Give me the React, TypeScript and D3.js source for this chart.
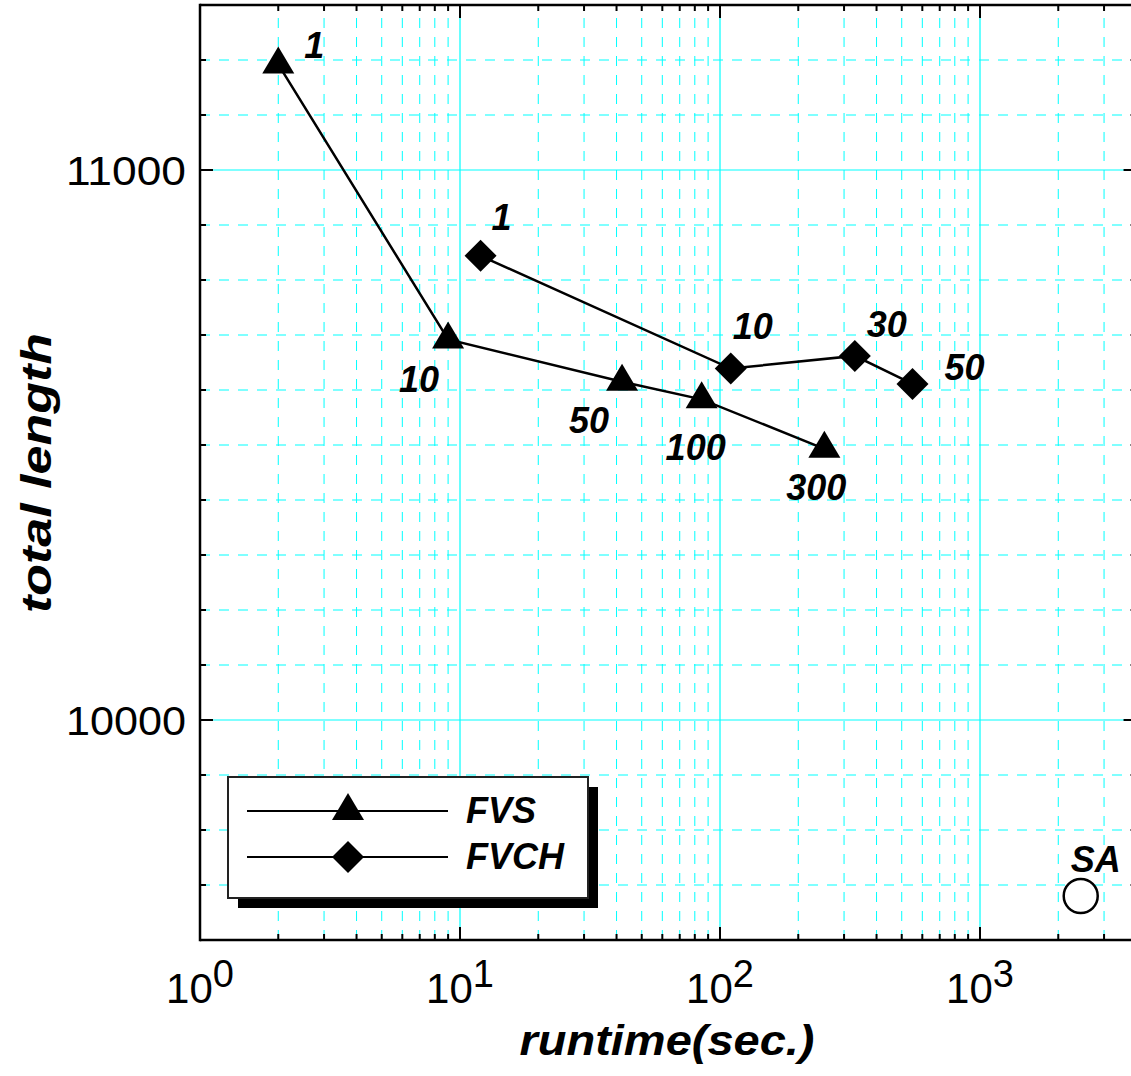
import { useEffect, useRef } from "react";
import * as d3 from "d3";

// FVS series (triangles)
const fvsRuntime = [2, 9, 42, 85, 252];
const fvsLength = [11192, 10692, 10615, 10583, 10493];
const fvsLabels = ["1", "10", "50", "100", "300"];

// FVCH series (diamonds)
const fvchRuntime = [12, 110, 330, 550];
const fvchLength = [10844, 10639, 10662, 10611];
const fvchLabels = ["1", "10", "30", "50"];

// SA reference point
const saRuntime = [2440];
const saLength = [9680];
const saLabels = ["SA"];

const seriesNames = ["FVS", "FVCH"];
const xDomain = [1, 4000];
const yDomain = [9600, 11300];
const xMajorTicks = [1, 10, 100, 1000];
const xTickExponents = ["0", "1", "2", "3"];
const yMajorTicks = [10000, 11000];

const W = 1131;
const H = 1076;
const FONT = "'Liberation Sans', Arial, Helvetica, sans-serif";
const GRID = "#00ffff";

// label offsets (px) from each marker
const fvsLabelOffsets = [[36, -6], [-29, 53], [-33, 51], [-6, 61], [-8, 51]];
const fvchLabelOffsets = [[21, -26], [22, -30], [32, -19], [52, -4]];
const saLabelOffsets = [[15, -24]];

const triPath = "M0,-18L16,9L-16,9Z";
const diaPath = "M0,-16L16,0L0,16L-16,0Z";

export default function App() {
  const ref = useRef<SVGSVGElement>(null);

  useEffect(() => {
    const svg = d3.select(ref.current);
    svg.selectAll("*").remove();

    const left = 200, top = 5, bottom = 940;
    const x = d3.scaleLog().domain(xDomain).range([left, left + 260 * Math.log10(xDomain[1])]);
    const y = d3.scaleLinear().domain(yDomain).range([bottom, top]);
    const right = x(xDomain[1]);

    svg.append("rect").attr("width", W).attr("height", H).attr("fill", "white");

    // minor tick values
    const xMinor: number[] = [];
    xMajorTicks.forEach((d) => {
      for (let k = 2; k <= 9; k++) if (k * d <= xDomain[1]) xMinor.push(k * d);
    });
    const yMinor = d3.range(yDomain[0] + 100, yDomain[1], 100).filter((v) => !yMajorTicks.includes(v));

    const grid = svg.append("g");
    grid.selectAll("line.xm").data(xMinor).join("line")
      .attr("x1", (d) => x(d)).attr("x2", (d) => x(d))
      .attr("y1", bottom).attr("y2", top)
      .attr("stroke", GRID).attr("stroke-width", 1).attr("stroke-dasharray", "10 9");
    grid.selectAll("line.ym").data(yMinor).join("line")
      .attr("x1", left).attr("x2", right)
      .attr("y1", (d) => y(d)).attr("y2", (d) => y(d))
      .attr("stroke", GRID).attr("stroke-width", 1).attr("stroke-dasharray", "10 9");
    grid.selectAll("line.xM").data(xMajorTicks.slice(1)).join("line")
      .attr("x1", (d) => x(d)).attr("x2", (d) => x(d))
      .attr("y1", bottom).attr("y2", top)
      .attr("stroke", GRID).attr("stroke-width", 1.2);
    grid.selectAll("line.yM").data(yMajorTicks).join("line")
      .attr("x1", left).attr("x2", right)
      .attr("y1", (d) => y(d)).attr("y2", (d) => y(d))
      .attr("stroke", GRID).attr("stroke-width", 1.2);

    const fvsPts = fvsRuntime.map((r, i) => [x(r), y(fvsLength[i])] as [number, number]);
    const fvchPts = fvchRuntime.map((r, i) => [x(r), y(fvchLength[i])] as [number, number]);

    svg.append("path").attr("d", d3.line()(fvsPts)).attr("fill", "none")
      .attr("stroke", "black").attr("stroke-width", 2.5);
    svg.append("path").attr("d", d3.line()(fvchPts)).attr("fill", "none")
      .attr("stroke", "black").attr("stroke-width", 2.5);

    svg.selectAll("path.tri").data(fvsPts).join("path")
      .attr("d", triPath).attr("transform", (d) => `translate(${d[0]},${d[1]})`)
      .attr("fill", "black");
    svg.selectAll("path.dia").data(fvchPts).join("path")
      .attr("d", diaPath).attr("transform", (d) => `translate(${d[0]},${d[1]})`)
      .attr("fill", "black");

    saRuntime.forEach((r, i) => {
      svg.append("circle").attr("cx", x(r)).attr("cy", y(saLength[i])).attr("r", 17)
        .attr("fill", "white").attr("stroke", "black").attr("stroke-width", 2.5);
    });

    const pointLabel = (px: number, py: number, t: string, off: number[]) =>
      svg.append("text")
        .attr("x", px + off[0]).attr("y", py + off[1])
        .attr("text-anchor", "middle")
        .style("font-family", FONT).style("font-size", "36px")
        .style("font-weight", "bold").style("font-style", "italic")
        .text(t);

    fvsPts.forEach((p, i) => pointLabel(p[0], p[1], fvsLabels[i], fvsLabelOffsets[i]));
    fvchPts.forEach((p, i) => pointLabel(p[0], p[1], fvchLabels[i], fvchLabelOffsets[i]));
    saRuntime.forEach((r, i) => pointLabel(x(r), y(saLength[i]), saLabels[i], saLabelOffsets[i]));

    // legend
    const lg = svg.append("g").attr("transform", "translate(228,777)");
    lg.append("rect").attr("x", 10).attr("y", 10).attr("width", 360).attr("height", 121).attr("fill", "black");
    lg.append("rect").attr("width", 360).attr("height", 121).attr("fill", "white")
      .attr("stroke", "#222").attr("stroke-width", 2);
    seriesNames.forEach((name, i) => {
      const ly = 34 + i * 46;
      lg.append("line").attr("x1", 19).attr("x2", 220).attr("y1", ly).attr("y2", ly)
        .attr("stroke", "black").attr("stroke-width", 2.2);
      lg.append("path").attr("d", i === 0 ? triPath : diaPath)
        .attr("transform", `translate(120,${ly})`).attr("fill", "black");
      lg.append("text").attr("x", 238).attr("y", ly + 12)
        .style("font-family", FONT).style("font-size", "36px")
        .style("font-weight", "bold").style("font-style", "italic")
        .text(name);
    });

    // frame
    const ax = svg.append("g").attr("stroke", "black").attr("stroke-width", 2.5);
    ax.append("line").attr("x1", left).attr("x2", left).attr("y1", top - 1.25).attr("y2", bottom + 1.25);
    ax.append("line").attr("x1", right).attr("x2", right).attr("y1", top - 1.25).attr("y2", bottom + 1.25);
    ax.append("line").attr("x1", left).attr("x2", right).attr("y1", top).attr("y2", top);
    ax.append("line").attr("x1", left).attr("x2", right).attr("y1", bottom).attr("y2", bottom);

    const tk = svg.append("g").attr("stroke", "black").attr("stroke-width", 2);
    const xTicks = [...xMinor.map((v) => [v, 6]), ...xMajorTicks.slice(1).map((v) => [v, 13])];
    xTicks.forEach(([v, len]) => {
      tk.append("line").attr("x1", x(v)).attr("x2", x(v)).attr("y1", bottom).attr("y2", bottom - len);
      tk.append("line").attr("x1", x(v)).attr("x2", x(v)).attr("y1", top).attr("y2", top + len);
    });
    const yTicks = [...yMinor.map((v) => [v, 6]), ...yMajorTicks.map((v) => [v, 13])];
    yTicks.forEach(([v, len]) => {
      tk.append("line").attr("x1", left).attr("x2", left + len).attr("y1", y(v)).attr("y2", y(v));
      tk.append("line").attr("x1", right).attr("x2", right - len).attr("y1", y(v)).attr("y2", y(v));
    });

    // tick labels
    yMajorTicks.forEach((v) => {
      svg.append("text").attr("x", 186).attr("y", y(v) + 15)
        .attr("text-anchor", "end")
        .attr("textLength", 120).attr("lengthAdjust", "spacingAndGlyphs")
        .style("font-family", FONT).style("font-size", "41px")
        .text(d3.format("d")(v));
    });
    xMajorTicks.forEach((v, i) => {
      const t = svg.append("text").attr("x", x(v)).attr("y", 1003)
        .attr("text-anchor", "middle")
        .style("font-family", FONT).style("font-size", "42px");
      t.append("tspan").text("10");
      t.append("tspan").attr("dy", -16).style("font-size", "38px").text(xTickExponents[i]);
    });

    // axis titles
    svg.append("text").attr("x", 667).attr("y", 1055)
      .attr("text-anchor", "middle")
      .attr("textLength", 295).attr("lengthAdjust", "spacingAndGlyphs")
      .style("font-family", FONT).style("font-size", "43px")
      .style("font-weight", "bold").style("font-style", "italic")
      .text("runtime(sec.)");
    svg.append("text").attr("transform", "translate(51,473) rotate(-90)")
      .attr("text-anchor", "middle")
      .attr("textLength", 280).attr("lengthAdjust", "spacingAndGlyphs")
      .style("font-family", FONT).style("font-size", "43px")
      .style("font-weight", "bold").style("font-style", "italic")
      .text("total length");
  }, []);

  return (
    <svg
      ref={ref}
      width={W}
      height={H}
      style={{ position: "absolute", left: 0, top: 0, display: "block" }}
    />
  );
}
